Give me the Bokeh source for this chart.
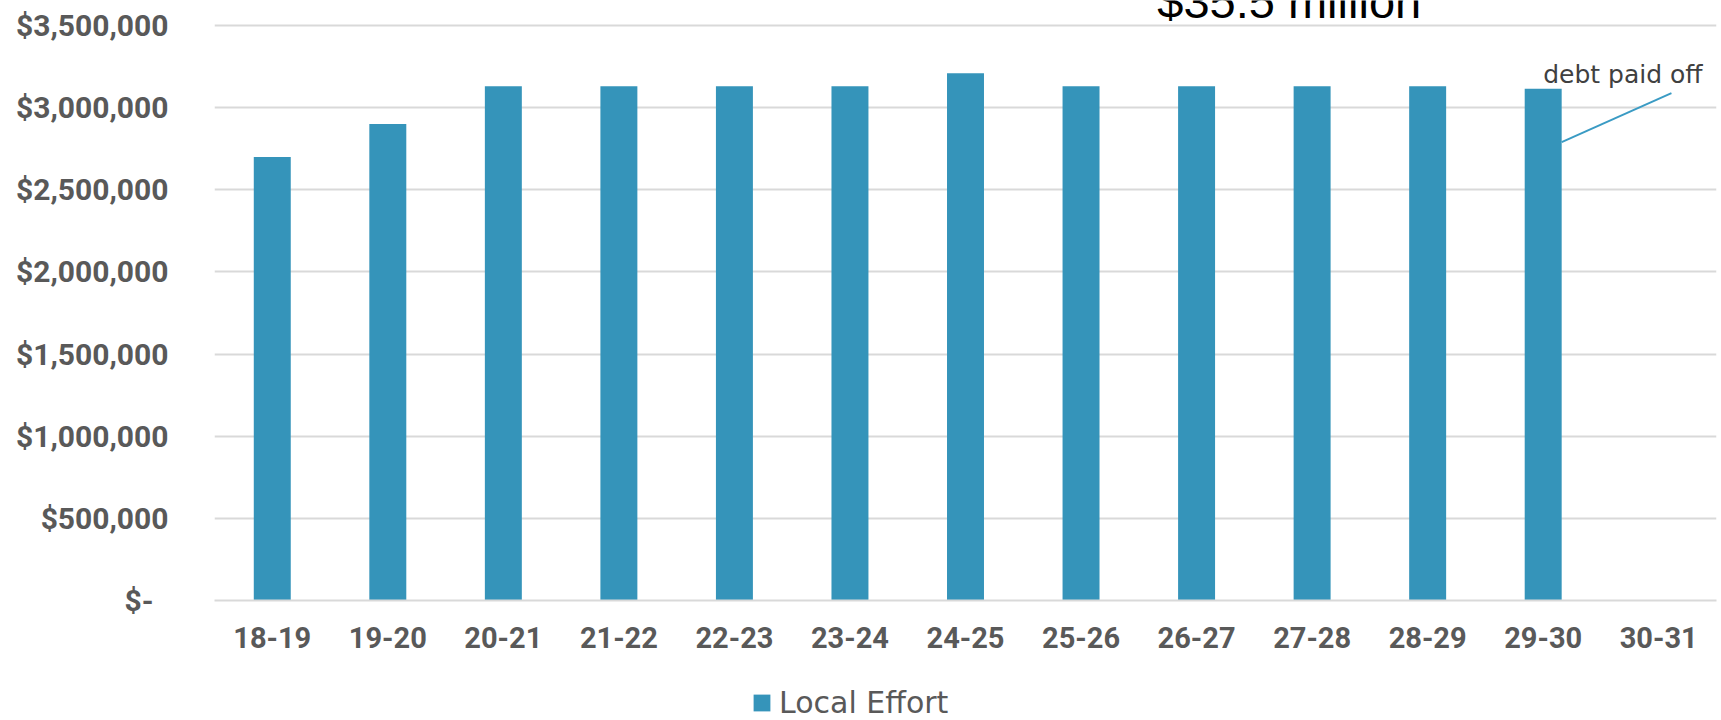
from bokeh.plotting import figure
from bokeh.layouts import column
from bokeh.models import (FactorRange, Range1d, FixedTicker, NumeralTickFormatter,
                          Legend, LegendItem, ColumnDataSource)
from bokeh.core.properties import value
from bokeh.embed import file_html
from bokeh.resources import INLINE

# ---- data ----
years = ["18-19", "19-20", "20-21", "21-22", "22-23", "23-24", "24-25",
         "25-26", "26-27", "27-28", "28-29", "29-30", "30-31"]
bar_years = years[:12]
local_effort = [2700000, 2900000, 3130000, 3130000, 3130000, 3130000, 3210000,
                3130000, 3130000, 3130000, 3130000, 3115000]
y_ticks = [0, 500000, 1000000, 1500000, 2000000, 2500000, 3000000, 3500000]
series_name = "Local Effort"
title_text = "$35.5 million"
note_text = "debt paid off"

# annotation positions (synthetic categorical x, data y)
title_pos = (8.16, 3649000)
note_pos = (11.5, 3200000)
leader_x = [11.66, 12.61]
leader_y = [2790000, 3088000]

BAR = "#3594BA"
GRID = "#D9D9D9"
LABEL = "#595959"

y_end = 3500000 * 600 / 575

p = figure(width=1721, height=660, output_backend="svg", toolbar_location=None,
           x_range=FactorRange(factors=years, range_padding=0),
           y_range=Range1d(0, y_end),
           min_border_left=214, min_border_right=5, min_border_top=0,
           min_border_bottom=60)
p.outline_line_color = None
p.background_fill_color = "white"
p.border_fill_color = "white"

src = ColumnDataSource(data=dict(x=bar_years, top=local_effort))
bars = p.vbar(x="x", top="top", width=0.32, source=src, fill_color=BAR,
              line_color=None)

# axes
p.yaxis.ticker = FixedTicker(ticks=y_ticks)
p.yaxis.formatter = NumeralTickFormatter(format="$0,0")
p.yaxis.major_label_overrides = {0: "$-\u00a0\u00a0"}
p.yaxis.axis_line_color = None
p.yaxis.major_tick_line_color = None
p.yaxis.minor_tick_line_color = None
p.yaxis.major_label_standoff = 40
p.yaxis.major_label_text_font = "Roboto"
p.yaxis.major_label_text_font_style = "bold"
p.yaxis.major_label_text_font_size = "30px"
p.yaxis.major_label_text_color = LABEL

p.xaxis.axis_line_color = GRID
p.xaxis.axis_line_width = 2
p.xaxis.major_tick_line_color = None
p.xaxis.minor_tick_line_color = None
p.xaxis.major_label_standoff = 20
p.xaxis.major_label_text_font = "Roboto"
p.xaxis.major_label_text_font_style = "bold"
p.xaxis.major_label_text_font_size = "29px"
p.xaxis.major_label_text_color = LABEL

p.xgrid.grid_line_color = None
p.ygrid.grid_line_color = GRID
p.ygrid.grid_line_width = 2

# annotations
p.text(x=[title_pos[0]], y=[title_pos[1]], text=[title_text],
       text_font=value("Liberation Sans"), text_font_size="47px",
       text_color="black", text_baseline="middle", text_align="left")
p.text(x=[note_pos[0]], y=[note_pos[1]], text=[note_text],
       text_font=value("DejaVu Sans"), text_font_size="25px",
       text_color="#404040", text_baseline="alphabetic", text_align="left")
p.line(x=leader_x, y=leader_y, line_color="#3A9BC4", line_width=2)

# legend strip under the chart
lg = figure(width=1721, height=60, output_backend="svg", toolbar_location=None,
            x_range=Range1d(0, 1721), y_range=Range1d(0, 60),
            x_axis_type=None, y_axis_type=None,
            min_border=0, min_border_left=0, min_border_right=0,
            min_border_top=0, min_border_bottom=0)
lg.outline_line_color = None
lg.xgrid.grid_line_color = None
lg.ygrid.grid_line_color = None
# key renderer kept outside the visible range; only its style feeds the legend
key = lg.vbar(x=[-100], top=[-100], width=1, fill_color=BAR, line_color=None)
legend = Legend(items=[LegendItem(label=series_name, renderers=[key])],
                location=(537, 0), orientation="horizontal",
                glyph_width=21, glyph_height=21, label_standoff=7,
                label_text_font="DejaVu Sans", label_text_font_size="30px",
                label_text_line_height=1.0,
                label_text_color=LABEL, border_line_color=None,
                background_fill_alpha=0, padding=0, margin=0, spacing=0)
lg.add_layout(legend, "center")

layout = column(p, lg, spacing=0)
open("out.html", "w").write(file_html(layout, INLINE))
